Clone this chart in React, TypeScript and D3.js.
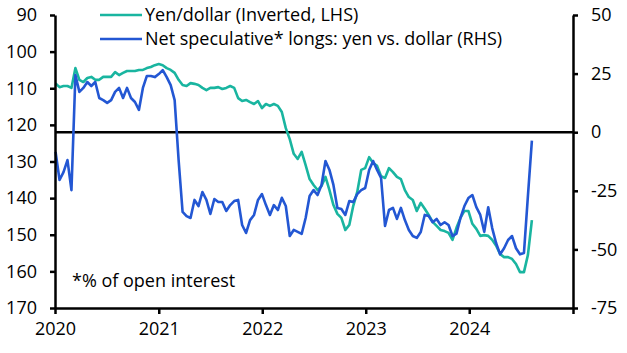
import { useEffect, useRef } from "react";
import * as d3 from "d3";

// ─── Data (fortnightly) ──────────────────────────────────────────────────────
const startDate = new Date(2020, 0, 3);
const stepDays = 14;

// Yen per dollar (left axis, inverted)
const yenDollar = [
  108.7, 109.7, 109.4, 109.4, 109.9, 104.5, 107.7, 108.3, 107.2, 106.9,
  107.7, 107.7, 106.9, 106.9, 106.9, 105.6, 106.4, 105.8, 105.3, 105.3,
  105.3, 105.0, 105.0, 104.5, 104.2, 103.7, 103.4, 103.7, 104.5, 105.0,
  105.8, 107.7, 109.1, 109.4, 108.6, 108.8, 109.1, 109.9, 110.5, 109.9,
  109.9, 109.7, 110.2, 109.9, 109.4, 109.9, 112.7, 113.5, 113.2, 113.8,
  114.3, 113.5, 115.4, 114.3, 114.8, 114.3, 114.8, 116.5, 120.9, 123.9,
  127.9, 129.3, 127.4, 131.0, 134.8, 136.4, 137.8, 136.7, 134.2, 137.8,
  141.9, 144.3, 145.4, 148.7, 147.3, 142.1, 138.3, 132.3, 131.8, 128.8,
  130.4, 131.2, 134.0, 134.5, 131.8, 132.9, 134.2, 134.8, 137.8, 139.7,
  140.5, 143.5, 141.3, 142.9, 144.6, 146.5, 147.6, 148.7, 149.0, 149.5,
  151.4, 148.1, 145.4, 143.5, 143.5, 147.0, 148.4, 150.3, 150.1, 150.3,
  151.4, 153.0, 155.3, 156.1, 156.1, 156.6, 158.0, 160.2, 160.2, 155.5,
  146.0,
];

// Net speculative longs, yen vs dollar, % of open interest (right axis)
const netLongs = [
  -8.4, -20.4, -17.0, -11.9, -24.7, 24.4, 17.2, 18.9, 21.4, 19.7,
  21.4, 14.6, 13.7, 12.5, 13.7, 17.2, 18.9, 14.6, 18.9, 14.6,
  12.9, 9.5, 18.9, 24.0, 24.0, 23.5, 24.8, 26.5, 23.5, 20.1,
  13.7, -11.9, -34.0, -35.8, -36.6, -28.9, -31.5, -25.5, -28.9, -34.9,
  -28.5, -29.8, -29.8, -33.6, -31.1, -29.4, -28.9, -39.6, -43.0, -37.5,
  -35.3, -28.9, -26.4, -31.1, -35.3, -31.1, -33.2, -28.0, -31.5, -44.3,
  -41.7, -42.5, -43.4, -36.6, -27.2, -24.7, -26.8, -22.5, -12.3, -16.1,
  -22.5, -32.3, -32.8, -35.3, -29.4, -29.8, -26.4, -24.7, -23.8, -16.1,
  -12.3, -16.1, -19.5, -40.0, -33.2, -32.3, -37.0, -32.3, -37.5, -41.7,
  -44.3, -45.1, -42.6, -35.3, -35.8, -38.4, -37.0, -39.6, -38.4, -39.6,
  -44.3, -43.3, -36.6, -31.5, -28.1, -26.8, -32.0, -35.3, -42.5, -32.0,
  -40.9, -47.4, -52.1, -49.5, -46.0, -44.3, -49.5, -52.1, -51.5, -27.2,
  -3.6,
];

const leftTicks = [90, 100, 110, 120, 130, 140, 150, 160, 170];
const rightTicks = [50, 25, 0, -25, -50, -75];
const yearTicks = [2020, 2021, 2022, 2023, 2024, 2025];

const legendLabels = [
  "Yen/dollar (Inverted, LHS)",
  "Net speculative* longs: yen vs. dollar (RHS)",
];
const footnote = "*% of open interest";

const TEAL = "#19b5a0";
const BLUE = "#2357d3";
const FONT = "'Open Sans', sans-serif";

export default function App() {
  const svgRef = useRef<SVGSVGElement>(null);

  useEffect(() => {
    if (!svgRef.current) return;

    const plot = { left: 55, right: 573, top: 15, bottom: 308 };

    const svg = d3.select(svgRef.current);
    svg.selectAll("*").remove();

    const dates = d3
      .range(yenDollar.length)
      .map((i) => d3.timeDay.offset(startDate, i * stepDays));

    // ── Scales ─────────────────────────────────────────────────────────────
    const x = d3
      .scaleTime()
      .domain([new Date(2020, 0, 1), new Date(2025, 0, 1)])
      .range([plot.left, plot.right]);
    const yLeft = d3.scaleLinear().domain([90, 170]).range([plot.top, plot.bottom]);
    const yRight = d3.scaleLinear().domain([50, -75]).range([plot.top, plot.bottom]);

    // ── Zero line (RHS) ────────────────────────────────────────────────────
    svg
      .append("line")
      .attr("x1", plot.left)
      .attr("x2", plot.right)
      .attr("y1", yRight(0))
      .attr("y2", yRight(0))
      .attr("stroke", "#000")
      .attr("stroke-width", 2.5);

    // ── Series ─────────────────────────────────────────────────────────────
    const yenLine = d3
      .line<number>()
      .x((_, i) => x(dates[i]))
      .y((d) => yLeft(d));
    const longsLine = d3
      .line<number>()
      .x((_, i) => x(dates[i]))
      .y((d) => yRight(d));

    svg
      .append("path")
      .attr("d", yenLine(yenDollar))
      .attr("fill", "none")
      .attr("stroke", TEAL)
      .attr("stroke-width", 2.6)
      .attr("stroke-linejoin", "round");

    svg
      .append("path")
      .attr("d", longsLine(netLongs))
      .attr("fill", "none")
      .attr("stroke", BLUE)
      .attr("stroke-width", 2.6)
      .attr("stroke-linejoin", "round");

    // ── Axes ───────────────────────────────────────────────────────────────
    const styleAxis = (g: d3.Selection<SVGGElement, unknown, null, undefined>) => {
      g.select(".domain").attr("stroke", "#000").attr("stroke-width", 2.5);
      g.selectAll(".tick line").attr("stroke", "#000").attr("stroke-width", 2.5);
      g.selectAll(".tick text")
        .attr("fill", "#000")
        .attr("font-family", FONT)
        .attr("font-size", 18);
    };

    svg
      .append("g")
      .attr("transform", `translate(${plot.left},0)`)
      .call(
        d3
          .axisLeft(yLeft)
          .tickValues(leftTicks)
          .tickSize(5)
          .tickSizeOuter(0)
          .tickPadding(13)
      )
      .call(styleAxis);

    svg
      .append("g")
      .attr("transform", `translate(${plot.right},0)`)
      .call(
        d3
          .axisRight(yRight)
          .tickValues(rightTicks)
          .tickSize(5)
          .tickSizeOuter(0)
          .tickPadding(13)
          .tickFormat((d) => String(d))
      )
      .call(styleAxis);

    svg
      .append("g")
      .attr("transform", `translate(0,${plot.bottom})`)
      .call(
        d3
          .axisBottom(x)
          .tickValues(yearTicks.map((yr) => new Date(yr, 0, 1)))
          .tickSize(6)
          .tickSizeOuter(0)
          .tickPadding(8)
          .tickFormat((d) => {
            const yr = (d as Date).getFullYear();
            return yr === 2025 ? "" : String(yr);
          })
      )
      .call(styleAxis);

    // ── Legend ─────────────────────────────────────────────────────────────
    const legend = svg.append("g");
    [TEAL, BLUE].forEach((color, i) => {
      const ly = 15 + i * 24;
      legend
        .append("line")
        .attr("x1", 100)
        .attr("x2", 142)
        .attr("y1", ly)
        .attr("y2", ly)
        .attr("stroke", color)
        .attr("stroke-width", 2.6);
      legend
        .append("text")
        .attr("x", 145)
        .attr("y", ly)
        .attr("dy", "0.35em")
        .attr("font-family", FONT)
        .attr("font-size", 18)
        .attr("fill", "#000")
        .text(legendLabels[i]);
    });

    // ── Footnote ───────────────────────────────────────────────────────────
    svg
      .append("text")
      .attr("x", 72)
      .attr("y", 287)
      .attr("font-family", FONT)
      .attr("font-size", 18)
      .attr("fill", "#000")
      .text(footnote);
  }, []);

  return (
    <svg
      ref={svgRef}
      width={627}
      height={353}
      viewBox="0 0 627 353"
      style={{ position: "absolute", left: 0, top: 0, background: "#fff" }}
    />
  );
}
